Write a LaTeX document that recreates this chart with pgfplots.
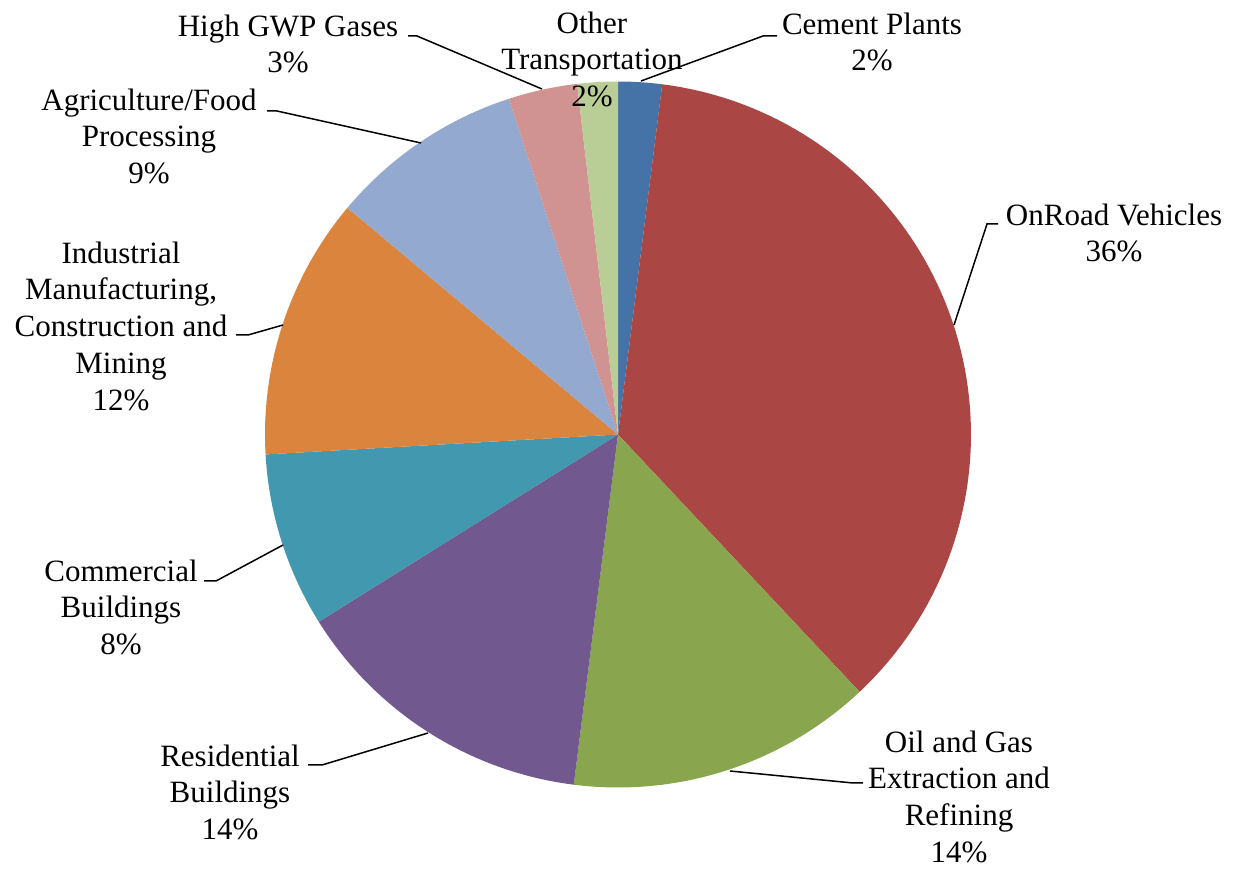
\documentclass[border=0pt]{standalone}
\usepackage{fontspec}
\setmainfont{Liberation Serif}
\usepackage{pgfplots}
\pgfplotsset{compat=1.18}

\definecolor{cement}{HTML}{4572A7}
\definecolor{onroad}{HTML}{AA4643}
\definecolor{oilgas}{HTML}{89A54E}
\definecolor{resid}{HTML}{71588F}
\definecolor{comm}{HTML}{4198AF}
\definecolor{indus}{HTML}{DB843D}
\definecolor{agri}{HTML}{93A9CF}
\definecolor{gwp}{HTML}{D19392}
\definecolor{othertr}{HTML}{B9CD96}

\tikzset{lbl/.style={font=\fontsize{12.4}{14.7}\selectfont, align=center,
    inner sep=0pt, anchor=north}}

% pie centre and radius, in axis units (1 unit = 1 px of the reference)
\def\cx{618}
\def\cy{434.5}
\def\rr{353}
\def\cumul{0}
% one wedge, clockwise from 12 o'clock: #1 = share in %, #2 = colour
\newcommand\slice[2]{%
  \pgfmathsetmacro\aa{90-3.6*\cumul}%
  \pgfmathsetmacro\bb{90-3.6*(\cumul+#1)}%
  \addplot[fill=#2, draw=none, domain=\bb:\aa, samples=80]
    ({\cx+\rr*cos(x)},{\cy+\rr*sin(x)}) -- (axis cs:\cx,\cy) -- cycle;
  \pgfmathsetmacro\tmp{\cumul+#1}%
  \global\let\cumul\tmp
}

\begin{document}
\begin{tikzpicture}
\begin{axis}[
    hide axis,
    x=0.4pt, y=0.4pt,
    xmin=0, xmax=1237,
    ymin=0, ymax=869,
    clip=false,
]
\addplot[draw=none] coordinates {(0,0) (1237,869)};

\slice{2.0}{cement}
\slice{36.0}{onroad}
\slice{14.0}{oilgas}
\slice{14.1}{resid}
\slice{8.0}{comm}
\slice{12.0}{indus}
\slice{8.9}{agri}
\slice{3.15}{gwp}
\slice{1.85}{othertr}

% leader lines
\addplot[black, line width=0.6pt] coordinates {(641,788) (763,833) (777,833)};
\addplot[black, line width=0.6pt] coordinates {(408,833) (417,833) (542,780)};
\addplot[black, line width=0.6pt] coordinates {(267,758) (277,758) (421,726)};
\addplot[black, line width=0.6pt] coordinates {(236,534) (248,534) (283,544)};
\addplot[black, line width=0.6pt] coordinates {(954,544) (987,645) (998,645)};
\addplot[black, line width=0.6pt] coordinates {(204,288) (216,288) (283,324)};
\addplot[black, line width=0.6pt] coordinates {(308,104) (322,104) (428,136)};
\addplot[black, line width=0.6pt] coordinates {(730,98) (853,86) (863,86)};

% labels
\node[lbl] at (axis cs:872,857) {Cement Plants\\2\%};
\node[lbl] at (axis cs:592,858) {Other\\Transportation\\2\%};
\node[lbl] at (axis cs:288,855) {High GWP Gases\\3\%};
\node[lbl] at (axis cs:149,781) {Agriculture/Food\\Processing\\9\%};
\node[lbl] at (axis cs:121,628) {Industrial\\Manufacturing,\\Construction and\\Mining\\12\%};
\node[lbl] at (axis cs:1114,666) {OnRoad Vehicles\\36\%};
\node[lbl] at (axis cs:121,310) {Commercial\\Buildings\\8\%};
\node[lbl] at (axis cs:230,125) {Residential\\Buildings\\14\%};
\node[lbl] at (axis cs:959,139) {Oil and Gas\\Extraction and\\Refining\\14\%};
\end{axis}
\end{tikzpicture}
\end{document}
